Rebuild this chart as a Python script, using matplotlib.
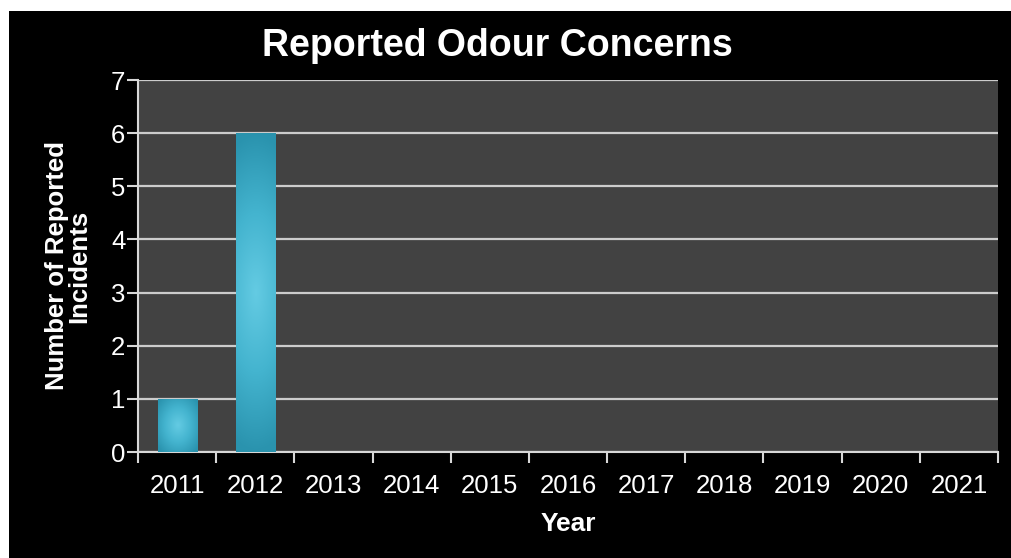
import numpy as np
import matplotlib
matplotlib.use("Agg")
import matplotlib.pyplot as plt
from matplotlib.colors import LinearSegmentedColormap

plt.rcParams['font.family'] = ['Liberation Sans', 'DejaVu Sans']

years = ['2011', '2012', '2013', '2014', '2015', '2016', '2017', '2018', '2019', '2020', '2021']
incidents = [1, 6, 0, 0, 0, 0, 0, 0, 0, 0, 0]
y_ticks = [0, 1, 2, 3, 4, 5, 6, 7]

fig = plt.figure(figsize=(10.12, 5.58), dpi=100)
fig.patch.set_facecolor('white')
# black panel (white strip at top and left like the screenshot)
bg = fig.add_axes([9 / 1012, 0, 1 - 9 / 1012, 1 - 11 / 558], zorder=-1)
bg.set_facecolor('black')
bg.set_xticks([])
bg.set_yticks([])
for s in bg.spines.values():
    s.set_visible(False)

ax = fig.add_axes([138 / 1012, 1 - 452 / 558, 860 / 1012, 372 / 558])
ax.set_facecolor('#424242')

x = np.arange(len(years))
bars = ax.bar(x, incidents, width=0.5, color='#3fb0cc', edgecolor='#2a8ea8',
              linewidth=0.6, zorder=3)

# radial gradient fill on each bar
cmap = LinearSegmentedColormap.from_list('teal', ['#64cbe3', '#44b4cf', '#2a93ae'])
gy, gx = np.mgrid[-1:1:200j, -1:1:200j]
for b in bars:
    h = b.get_height()
    if h <= 0:
        continue
    bx, bw = b.get_x(), b.get_width()
    if h / bw > 4:
        r = np.sqrt((gx * 0.35) ** 2 + gy ** 2)
    else:
        r = np.sqrt(gx ** 2 + gy ** 2) / 1.3
    im = ax.imshow(np.clip(r, 0, 1), cmap=cmap, vmin=0, vmax=1, aspect='auto',
                   extent=[bx, bx + bw, 0, h], origin='lower', zorder=3.5,
                   interpolation='bilinear')
    im.set_clip_path(b)

ax.set_xlim(-0.5, len(years) - 0.5)
ax.set_ylim(0, 7)
ax.set_yticks(y_ticks)
ax.yaxis.grid(True, color='#cccccc', linewidth=1.6, zorder=1)
ax.set_axisbelow(True)

ax.set_xticks(x)
ax.set_xticklabels(years)
ax.set_xticks(np.arange(len(years) + 1) - 0.5, minor=True)
ax.tick_params(axis='x', which='major', length=0, pad=16, labelsize=18.5, colors='white')
ax.tick_params(axis='x', which='minor', length=8, width=1.5, color='#d8d8d8')
ax.tick_params(axis='y', length=8, width=1.5, color='#d8d8d8', labelsize=18.5,
               labelcolor='white', pad=1)

for s in ['top', 'right']:
    ax.spines[s].set_visible(False)
for s in ['left', 'bottom']:
    ax.spines[s].set_color('#d8d8d8')
    ax.spines[s].set_linewidth(1.5)

ax.set_xlabel('Year', color='white', fontsize=19, fontweight='bold', labelpad=10)
ax.set_ylabel('Number of Reported\nIncidents', color='white', fontsize=18.5,
              fontweight='bold', labelpad=14, linespacing=0.95)
fig.text(497 / 1012, 1 - 46 / 558, 'Reported Odour Concerns', color='white',
         fontsize=27, fontweight='bold', ha='center', va='center')

fig.savefig('out.png', dpi=100, facecolor=fig.get_facecolor())
